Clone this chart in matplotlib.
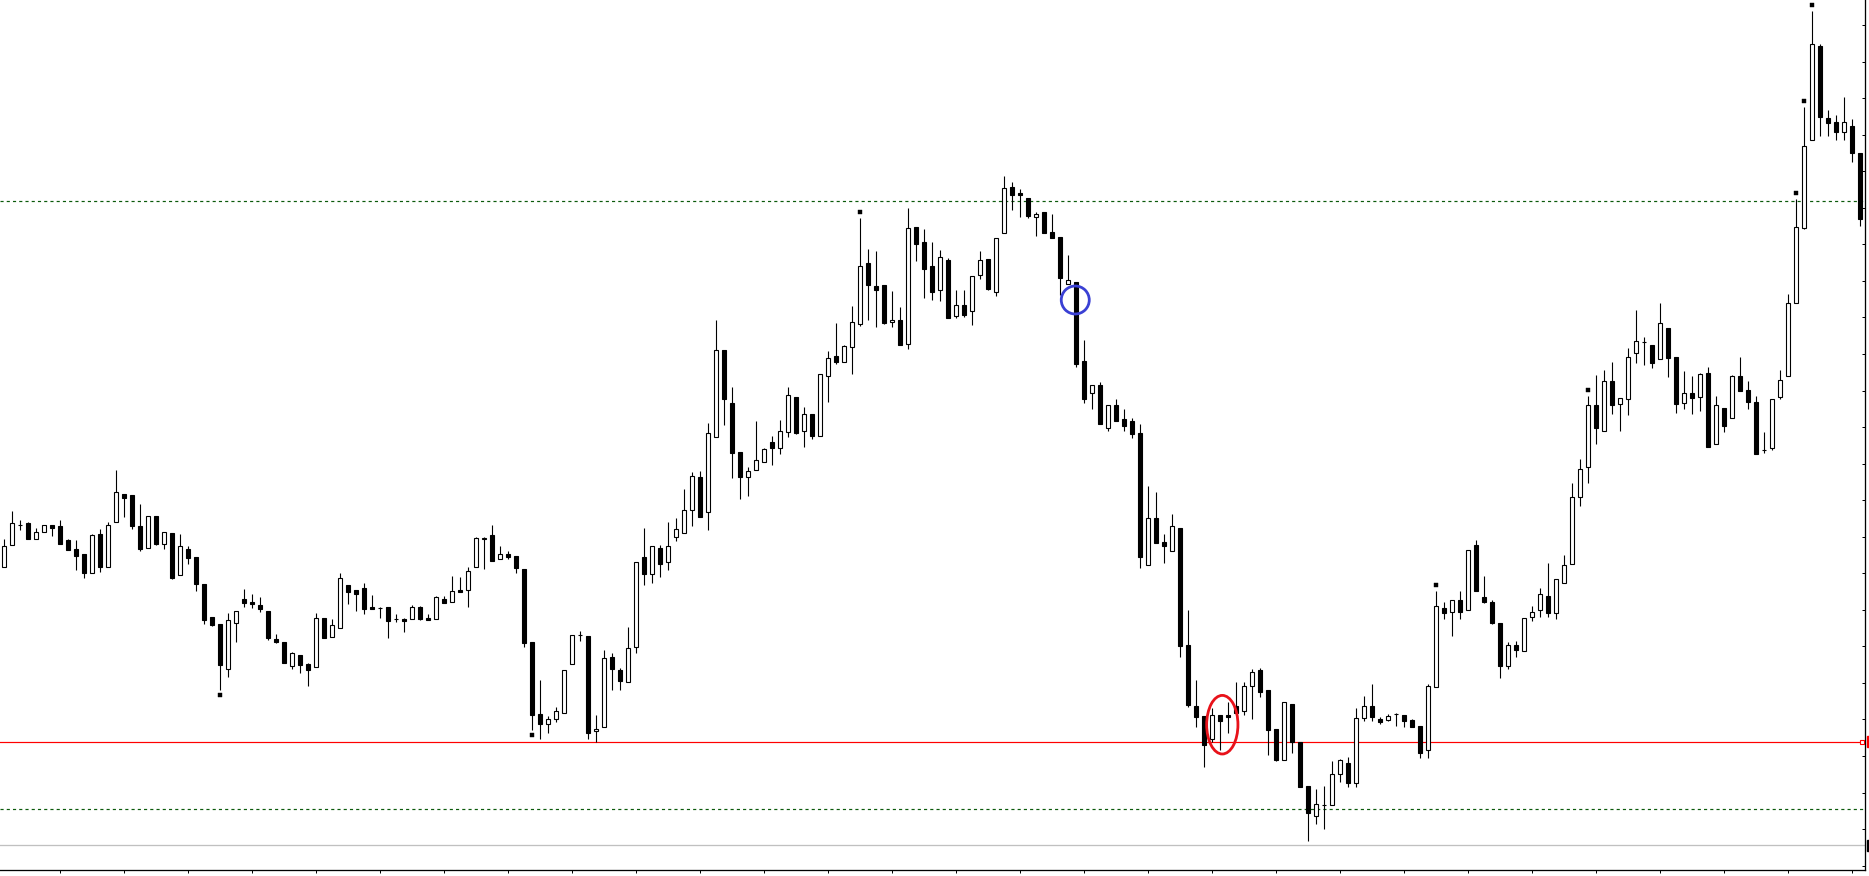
import numpy as np
import matplotlib
matplotlib.use("Agg")
import matplotlib.pyplot as plt
from matplotlib.patches import Ellipse, Rectangle

# candle data, price in chart units (one unit = one screen pixel)
opens = [
    309, 331, 351, 353, 337, 344, 351, 350, 336, 327,
    322, 303, 342, 309, 354, 382, 381, 350, 328, 360,
    332, 343, 301, 327, 319, 292, 259, 252, 207, 253,
    277, 274, 271, 265, 237, 234, 210, 221, 212, 209,
    258, 239, 248, 291, 286, 288, 269, 268, 269, 257,
    257, 257, 269, 258, 257, 277, 274, 286, 286, 309,
    337, 341, 317, 322, 320, 307, 234, 162, 152, 157,
    163, 212, 241, 240, 145, 149, 219, 206, 194, 229,
    319, 302, 328, 314, 339, 343, 366, 399, 364, 439,
    526, 473, 424, 399, 406, 414, 434, 428, 444, 479,
    445, 462, 440, 500, 520, 514, 529, 552, 613, 590,
    591, 554, 556, 532, 649, 634, 610, 586, 616, 560,
    571, 565, 601, 617, 584, 643, 689, 683, 678, 659,
    664, 644, 639, 592, 594, 515, 483, 491, 448, 471,
    457, 455, 443, 311, 358, 334, 325, 348, 231, 170,
    160, 137, 161, 161, 170, 165, 190, 206, 186, 147,
    116, 172, 134, 90, 60, 71, 71, 102, 113, 93,
    158, 170, 157, 156, 162, 161, 156, 150, 126, 189,
    268, 264, 276, 266, 331, 279, 274, 253, 210, 231,
    225, 259, 266, 280, 263, 293, 312, 379, 409, 471,
    445, 495, 472, 477, 523, 534, 531, 517, 548, 519,
    473, 483, 479, 503, 432, 468, 458, 500, 486, 474,
    426, 428, 479, 500, 573, 648, 736, 830, 758, 754,
    744, 750, 723,
]
highs = [
    337, 365, 356, 354, 348, 351, 351, 356, 337, 336,
    322, 342, 347, 354, 406, 382, 381, 372, 360, 360,
    344, 343, 342, 330, 319, 292, 259, 252, 263, 265,
    287, 282, 279, 265, 242, 234, 224, 221, 213, 263,
    258, 257, 303, 291, 286, 293, 281, 269, 269, 262,
    258, 271, 270, 262, 280, 280, 300, 299, 309, 339,
    339, 351, 330, 325, 320, 307, 234, 196, 160, 169,
    206, 241, 245, 240, 161, 226, 223, 208, 249, 314,
    348, 330, 331, 354, 358, 387, 404, 405, 453, 556,
    526, 489, 424, 409, 455, 428, 440, 456, 489, 479,
    469, 462, 502, 525, 553, 531, 570, 658, 627, 625,
    591, 585, 569, 668, 649, 647, 634, 626, 618, 586,
    586, 600, 625, 617, 638, 700, 694, 687, 678, 664,
    664, 662, 639, 621, 594, 536, 491, 494, 471, 477,
    467, 458, 452, 390, 384, 342, 362, 348, 266, 196,
    160, 168, 161, 174, 194, 194, 207, 208, 186, 147,
    174, 172, 134, 90, 87, 90, 115, 117, 119, 168,
    180, 192, 159, 162, 163, 161, 157, 150, 192, 285,
    274, 276, 285, 326, 336, 300, 276, 253, 234, 235,
    258, 270, 288, 313, 297, 321, 393, 417, 480, 501,
    506, 514, 478, 528, 566, 539, 531, 573, 548, 519,
    505, 500, 503, 509, 480, 468, 501, 519, 495, 480,
    444, 477, 506, 582, 677, 769, 865, 832, 766, 761,
    779, 757, 723,
]
lows = [
    309, 331, 346, 337, 337, 344, 340, 332, 326, 306,
    298, 303, 304, 309, 354, 359, 347, 325, 328, 331,
    327, 297, 301, 312, 285, 252, 250, 186, 199, 234,
    269, 268, 264, 236, 233, 213, 207, 203, 190, 209,
    238, 239, 248, 272, 265, 262, 267, 258, 238, 254,
    244, 257, 256, 256, 257, 273, 274, 284, 269, 309,
    307, 315, 317, 317, 303, 229, 146, 137, 143, 154,
    163, 212, 235, 137, 134, 149, 186, 186, 194, 223,
    291, 293, 299, 306, 335, 343, 350, 359, 346, 439,
    451, 398, 377, 380, 406, 414, 411, 422, 439, 442,
    429, 437, 440, 474, 512, 514, 502, 550, 556, 549,
    552, 549, 531, 527, 615, 578, 576, 575, 558, 558,
    559, 551, 597, 586, 580, 643, 666, 659, 658, 640,
    643, 638, 581, 592, 509, 473, 467, 452, 445, 455,
    445, 438, 308, 311, 333, 313, 325, 219, 169, 149,
    109, 134, 126, 143, 162, 161, 157, 179, 121, 115,
    116, 123, 89, 35, 52, 47, 71, 94, 89, 89,
    155, 155, 152, 155, 150, 149, 149, 118, 118, 189,
    257, 240, 257, 266, 285, 273, 252, 198, 207, 219,
    225, 255, 259, 259, 257, 293, 312, 370, 393, 432,
    445, 462, 445, 461, 513, 511, 508, 517, 499, 463,
    467, 462, 465, 429, 432, 444, 458, 485, 467, 422,
    423, 426, 477, 500, 573, 647, 736, 740, 740, 736,
    736, 714, 650,
]
closes = [
    330, 353, 351, 337, 344, 351, 348, 332, 326, 320,
    303, 341, 309, 351, 384, 378, 350, 327, 360, 332,
    344, 298, 330, 318, 292, 256, 251, 211, 256, 265,
    273, 272, 267, 238, 234, 213, 223, 211, 206, 258,
    238, 251, 298, 284, 282, 267, 267, 268, 255, 257,
    255, 269, 257, 256, 279, 273, 285, 284, 305, 338,
    338, 315, 322, 319, 308, 233, 161, 152, 157, 165,
    206, 241, 241, 143, 147, 218, 207, 195, 228, 314,
    302, 330, 312, 330, 347, 366, 400, 359, 443, 526,
    477, 423, 399, 405, 416, 427, 428, 445, 481, 443,
    462, 440, 502, 518, 514, 530, 554, 610, 591, 586,
    553, 556, 531, 648, 632, 607, 584, 619, 558, 571,
    561, 600, 616, 587, 638, 688, 681, 681, 660, 662,
    643, 638, 598, 596, 512, 477, 491, 452, 471, 455,
    450, 442, 319, 358, 333, 330, 350, 230, 171, 159,
    131, 161, 155, 159, 163, 190, 204, 184, 146, 116,
    174, 134, 89, 63, 72, 71, 102, 116, 93, 158,
    170, 159, 154, 160, 162, 155, 149, 123, 190, 270,
    263, 276, 264, 326, 285, 274, 253, 210, 231, 226,
    258, 264, 282, 263, 297, 311, 379, 407, 471, 448,
    495, 471, 478, 519, 535, 534, 513, 553, 518, 472,
    483, 478, 502, 429, 471, 450, 500, 485, 474, 422,
    426, 477, 496, 573, 649, 730, 832, 759, 753, 744,
    754, 723, 657,
]

# fractal style arrows above highs / below lows
marks_up = [107, 179, 198, 224, 225, 226]
marks_down = [27, 66]

# horizontal levels
red_level = 134
green_levels = [674.7, 66.7]
gray_level = 30.7

W, H = 1869, 876
fig = plt.figure(figsize=(W / 100, H / 100), dpi=100)
fig.patch.set_facecolor("white")
ax = fig.add_axes([0, 5.7 / H, 1865.3 / W, 1 - 5.7 / H])
ax.set_xlim(-3.5 / 8, (1865.3 - 3.5) / 8)
ax.set_ylim(5.7, 876)

o = np.array(opens)
c = np.array(closes)
hi = np.array(highs)
lo = np.array(lows)
x = np.arange(len(o))
px = 0.72  # one pixel in points

# levels (behind the candles)
ax.axhline(red_level, color="#ff0000", lw=px * 1.2, zorder=1)
for lv in green_levels:
    ax.axhline(lv, color="#0b5a0b", lw=px * 1.2, ls=(0, (2.6, 2.6)), zorder=1)
ax.axhline(gray_level, color="#c0c0c0", lw=px * 1.3, zorder=1)

# candles
ax.vlines(x, lo, hi, color="black", lw=px * 1.1, zorder=2)
bull = c >= o
faces = np.where(bull, "white", "black")
ax.bar(x, np.abs(c - o), bottom=np.minimum(o, c), width=0.5,
       color=faces, edgecolor="black", linewidth=px * 1.1, zorder=3)

# arrows
ax.plot(marks_up, hi[marks_up] + 6, ls="none", marker="s", ms=2.6,
        color="black", mec="black", mew=0.3, zorder=4)
ax.plot(marks_down, lo[marks_down] - 5, ls="none", marker="s", ms=2.6,
        color="black", mec="black", mew=0.3, zorder=4)

# price marker at end of the red line
ax.plot([232.35], [red_level], marker="s", ms=3.0, mfc="white", mec="#ff0000",
        mew=0.8, clip_on=False, zorder=5)

# highlighted candles
ax.add_patch(Ellipse((133.97, 576), 3.5, 28, fill=False, ec="#3a40d4", lw=2.0, zorder=6))
ax.add_patch(Ellipse((152.35, 151.3), 3.91, 58.6, fill=False, ec="#e8121a", lw=2.0, zorder=6))

# axes look like the terminal window
for s in ["left", "top"]:
    ax.spines[s].set_visible(False)
ax.spines["right"].set_linewidth(px * 1.3)
ax.spines["bottom"].set_linewidth(px * 1.3)
ax.yaxis.tick_right()
ax.set_yticks(851 - 36.55 * np.arange(24))
ax.set_xticks(np.arange(7, 233, 8))
ax.tick_params(axis="y", direction="in", length=2.0, width=px, labelright=False, labelleft=False)
ax.tick_params(axis="x", direction="out", length=2.2, width=px, labelbottom=False)

# price labels cut off at the right border
fig.add_artist(Rectangle((1867 / W, (H - 747) / H), 3 / W, 11 / H,
                         transform=fig.transFigure, color="#ff0000"))
fig.add_artist(Rectangle((1867 / W, (H - 851) / H), 3 / W, 11 / H,
                         transform=fig.transFigure, color="black"))

fig.savefig("out.png", dpi=100)
